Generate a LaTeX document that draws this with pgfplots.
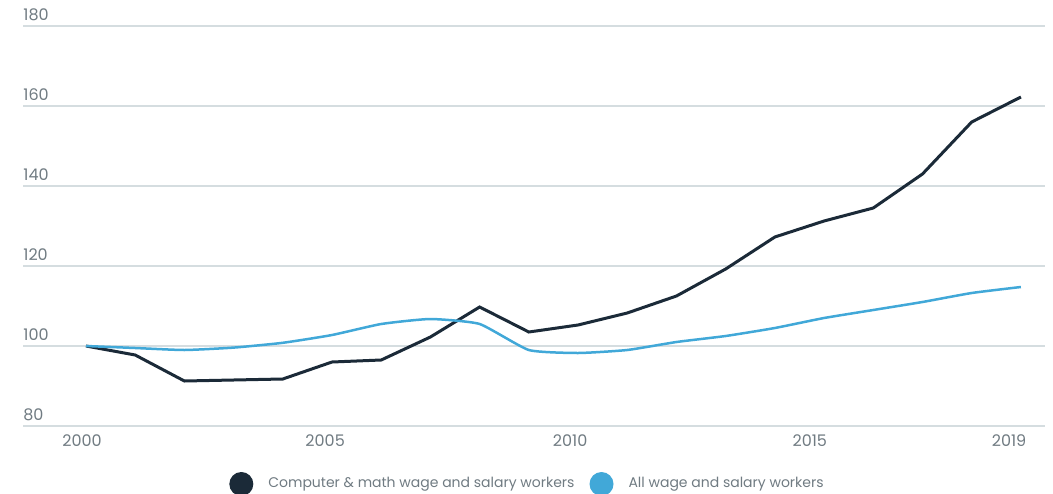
\documentclass[border=0pt]{standalone}
\usepackage{pgfplots}
\pgfplotsset{compat=1.18}
\usepackage{fontspec}
\setmainfont{Poppins}
\definecolor{darkline}{HTML}{1B2A38}
\definecolor{blueline}{HTML}{41A8D8}
\definecolor{gridgray}{HTML}{D5DDE0}
\definecolor{textgray}{HTML}{707B82}

% index, 2000 = 100
\pgfplotstableread{
year  comp    all
2000  100.0   100.0
2001  97.75   99.5
2002  91.25   99.0
2003  91.5    99.6
2004  91.75   100.8
2005  96.0    102.75
2006  96.5    105.5
2007  102.25  106.75
2008  109.75  105.5
2009  103.5   99.0
2010  105.25  98.25
2011  108.25  99.0
2012  112.5   101.0
2013  119.25  102.5
2014  127.25  104.5
2015  131.25  107.0
2016  134.5   109.0
2017  143.0   111.0
2018  156.0   113.25
2019  162.25  114.75
}\wages

\begin{document}
\begin{tikzpicture}
\begin{axis}[
  name=ax,
  scale only axis,
  width=511pt, height=200pt,
  xmin=1998.72, xmax=2019.49,
  ymin=80, ymax=180,
  axis line style={draw=none},
  major tick length=0pt,
  ymajorgrids,
  grid style={gridgray, line width=0.75pt},
  ytick={80,100,...,180},
  xtick={1999.92,2004.86,2009.84,2014.71,2018.76},
  xticklabels={2000,2005,2010,2015,2019},
  tick label style={font=\fontsize{8}{9}\selectfont, textgray},
  /pgf/number format/assume math mode=true,
  /pgf/number format/1000 sep={},
  yticklabel style={anchor=south west, inner sep=0pt, yshift=2.5pt},
  xticklabel style={yshift=-1pt},
  legend style={at={(0.4946,-0.145)}, anchor=center, draw=none,
    font=\fontsize{7}{9}\selectfont, text=textgray,
    /tikz/every odd column/.append style={column sep=5.5pt},
    /tikz/every even column/.append style={column sep=5.5pt}},
  legend columns=2,
  legend image code/.code={\fill[#1, draw=none] (6pt,0) circle (6pt);},
]
\addplot[color=darkline, line width=1.5pt] table[x=year, y=comp] {\wages};
\addlegendentry{Computer \& math wage and salary workers}
\addplot[color=blueline, line width=1.25pt, smooth, tension=0.3] table[x=year, y=all] {\wages};
\addlegendentry{All wage and salary workers}
\end{axis}
\pgfresetboundingbox
\path ([shift={(-11.5pt,-33.5pt)}]ax.south west) rectangle ([shift={(4pt,13pt)}]ax.north east);
\end{tikzpicture}
\end{document}
